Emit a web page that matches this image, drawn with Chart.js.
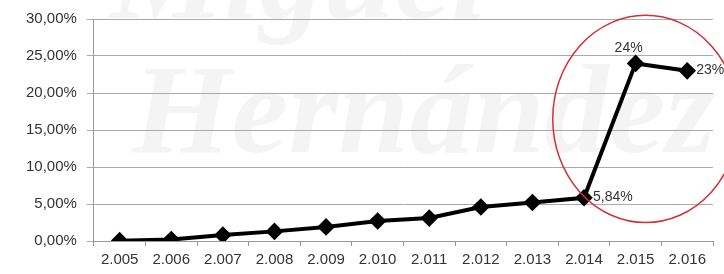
<!DOCTYPE html>
<html>
<head>
  <title>Evolución porcentual</title>
  <script src="https://cdn.jsdelivr.net/npm/chart.js"></script>
  <style>
    html, body { margin: 0; padding: 0; background: #fff; }
    #box { width: 724px; height: 274px; }
  </style>
</head>
<body>
  <div id="box"><canvas id="evoChart"></canvas></div>

  <script>
    const years = ['2.005', '2.006', '2.007', '2.008', '2.009', '2.010', '2.011', '2.012', '2.013', '2.014', '2.015', '2.016'];
    const pct = [0.05, 0.2, 0.8, 1.3, 1.9, 2.7, 3.1, 4.6, 5.2, 5.84, 24, 23];
    const pointLabels = ['', '', '', '', '', '', '', '', '', '5,84%', '24%', '23%'];
    const yTicks = [0, 5, 10, 15, 20, 25, 30];

    const FONT = '"Liberation Sans", Arial, sans-serif';

    // marca de agua y círculo rojo
    const extras = {
      id: 'extras',
      beforeDraw(chart) {
        const c = chart.ctx;
        c.save();
        c.fillStyle = 'rgba(0,0,0,0.045)';
        c.font = 'italic bold 128px "Liberation Serif", serif';
        c.textBaseline = 'alphabetic';
        c.fillText('Miguel', 110, 18);
        c.fillText('Hernández', 132, 152);
        c.restore();
      },
      afterDatasetsDraw(chart) {
        const c = chart.ctx;
        const x = chart.scales.x, y = chart.scales.y;
        const meta = chart.getDatasetMeta(0);
        c.save();
        c.font = '14px ' + FONT;
        c.fillStyle = '#333';
        c.textBaseline = 'middle';
        pointLabels.forEach((t, i) => {
          if (!t) return;
          const p = meta.data[i];
          if (i === 10) {
            c.textAlign = 'center';
            c.fillText(t, p.x - 7, p.y - 15);
          } else {
            c.textAlign = 'left';
            c.fillText(t, p.x + 9, p.y - 1);
          }
        });
        // círculo rojo alrededor del salto
        const step = x.getPixelForValue(11) - x.getPixelForValue(10);
        const cx = x.getPixelForValue(10) + 10;
        const cy = y.getPixelForValue(16.5);
        const ry = y.getPixelForValue(2.5) - cy;
        c.strokeStyle = '#d0303a';
        c.lineWidth = 1.5;
        c.beginPath();
        c.ellipse(cx, cy, step * 1.8, ry, 0, 0, Math.PI * 2);
        c.stroke();
        c.restore();
      }
    };

    const ctx = document.getElementById('evoChart').getContext('2d');
    new Chart(ctx, {
      type: 'line',
      data: {
        labels: years,
        datasets: [{
          data: pct,
          borderColor: '#000',
          backgroundColor: '#000',
          borderWidth: 4,
          pointStyle: 'rectRot',
          pointRadius: 6,
          tension: 0
        }]
      },
      options: {
        responsive: true,
        maintainAspectRatio: false,
        animation: false,
        layout: { padding: { top: 7, right: 11, left: 16, bottom: 0 } },
        plugins: { legend: { display: false }, tooltip: { enabled: false } },
        scales: {
          x: {
            offset: true,
            grid: { offset: true, drawOnChartArea: false, color: '#999', tickLength: 5 },
            border: { color: '#999' },
            ticks: { color: '#333', padding: 5, maxRotation: 0, autoSkip: false, font: { size: 15, family: FONT } }
          },
          y: {
            min: 0,
            max: 30,
            afterBuildTicks(axis) { axis.ticks = yTicks.map(v => ({ value: v })); },
            grid: { color: '#aaa', tickLength: 7 },
            border: { color: '#999' },
            ticks: {
              color: '#333',
              padding: 10,
              font: { size: 15, family: FONT },
              callback: v => v.toFixed(2).replace('.', ',') + '%'
            }
          }
        }
      },
      plugins: [extras]
    });
  </script>
</body>
</html>
